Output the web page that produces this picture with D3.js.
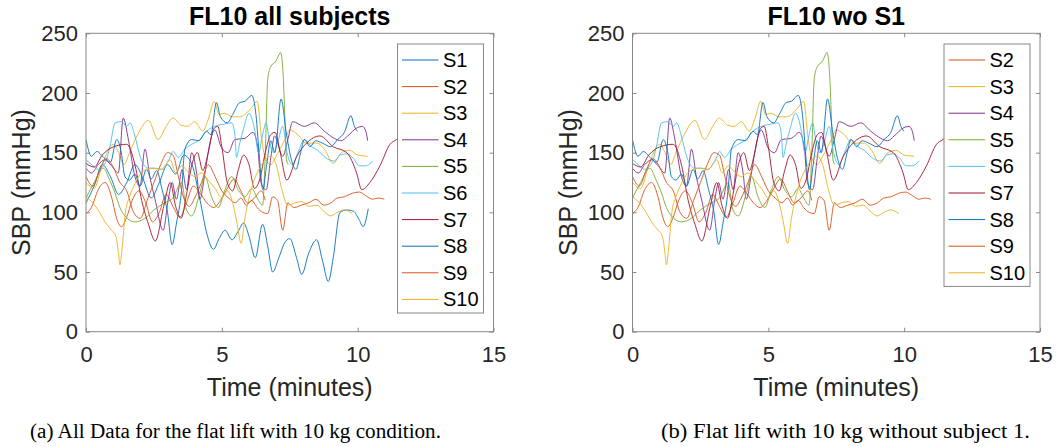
<!DOCTYPE html>
<html>
<head>
<meta charset="utf-8">
<script src="https://cdn.jsdelivr.net/npm/d3@7"></script>
<style>
  body { margin: 0; background: #fff; }
  text { font-family: "Liberation Sans", Arial, sans-serif; }
</style>
</head>
<body>
<div id="chart"></div>
<script>
// SBP readings per subject: [time (minutes), SBP (mmHg)]
var s1 = [[0,108],[0.3,122],[0.6,140],[0.9,130],[1.2,115],[1.5,125],[1.8,140],[2.1,128],[2.4,112],[2.7,125],[3.0,140],[3.3,132],[3.6,148],[3.9,140],[4.2,110],[4.45,82],[4.69,69],[4.9,78],[5.12,85],[5.37,77],[5.6,84],[5.8,91],[6.0,80],[6.23,62],[6.5,90],[6.7,70],[6.87,50],[7.1,62],[7.3,74],[7.5,78],[7.75,62],[7.94,48],[8.2,66],[8.49,77],[8.7,60],[8.92,42],[9.1,62],[9.35,100],[9.6,102],[9.84,101],[10.05,94],[10.2,88],[10.39,103]];
var s2 = [[0,99],[0.2,104],[0.45,119],[0.7,125],[0.95,112],[1.1,97],[1.3,88],[1.5,96],[1.7,110],[1.95,118],[2.2,108],[2.45,92],[2.7,100],[2.95,115],[3.2,105],[3.45,96],[3.7,108],[3.95,122],[4.2,116],[4.45,108],[4.7,104],[4.95,110],[5.2,120],[5.45,128],[5.7,118],[5.95,108],[6.2,112],[6.45,118],[6.6,110]];
var s3 = [[0,125],[0.3,120],[0.6,140],[1.0,157],[1.2,150],[1.4,140],[1.6,150],[1.9,165],[2.3,177],[2.65,161],[2.95,172],[3.2,179],[3.5,173],[3.75,172],[4.0,176],[4.3,168],[4.5,178],[4.72,193],[4.9,182],[5.1,183],[5.4,180],[5.65,180],[5.85,182],[6.1,188],[6.3,193],[6.45,165],[6.6,145],[6.8,140],[7.0,147],[7.3,160],[7.5,169],[7.8,165],[8.1,158],[8.5,158],[8.8,152],[9.1,141],[9.4,150],[9.7,152],[10.0,148],[10.37,147]];
var s4 = [[0,137],[0.21,133],[0.45,140],[0.7,144],[0.94,139],[1.19,133],[1.37,179],[1.56,161],[1.8,130],[1.99,122],[2.17,153],[2.35,130],[2.54,111],[2.84,85],[3.03,111],[3.17,125],[3.33,111],[3.54,136],[3.7,119],[3.89,150],[4.07,133],[4.19,111],[4.38,133],[4.56,158],[4.74,169],[4.99,154],[5.23,150],[5.48,161],[5.85,162],[6.14,167],[6.32,155],[6.44,125],[6.63,119],[6.81,147],[6.94,164],[7.24,147],[7.43,161],[7.61,176],[8.04,172],[8.4,175],[8.77,168],[9.14,162],[9.39,160],[9.63,164],[9.99,171],[10.18,172],[10.3,168],[10.37,160]];
var s5 = [[0,112],[0.3,125],[0.64,137],[0.85,128],[1.07,116],[1.25,104],[1.43,97],[1.8,92],[2.17,95],[2.5,102],[2.9,108],[3.2,112],[3.52,125],[3.7,102],[3.89,97],[4.19,116],[4.38,130],[4.62,113],[4.87,104],[5.1,118],[5.36,130],[5.6,119],[5.85,113],[6.1,120],[6.3,112],[6.5,106],[6.6,150],[6.69,212],[6.8,222],[7.0,227],[7.08,231],[7.16,234],[7.25,218],[7.32,180],[7.38,144],[7.45,140]];
var s6 = [[0,144],[0.21,140],[0.45,136],[0.7,141],[0.88,155],[1.07,175],[1.31,176],[1.5,172],[1.62,175],[1.8,164],[1.99,147],[2.29,137],[2.54,137],[2.78,136],[3.03,143],[3.21,151],[3.39,146],[3.64,153],[3.89,157],[4.19,161],[4.44,168],[4.74,172],[5.11,174],[5.36,175],[5.48,165],[5.54,146],[5.66,158],[5.8,170],[6.0,183],[6.2,170],[6.35,150],[6.5,165],[6.63,175],[6.75,160],[6.9,150],[7.05,158],[7.24,172],[7.4,150],[7.6,140],[7.8,150],[8.04,161],[8.3,155],[8.53,152],[8.8,146],[9.14,143],[9.35,148],[9.6,149],[9.85,145],[10.06,139],[10.3,139],[10.55,143]];
var s7 = [[0,141],[0.3,138],[0.6,148],[1.02,155],[1.5,157],[1.81,139],[2.05,110],[2.3,90],[2.55,76],[2.86,105],[3.1,125],[3.3,105],[3.5,95],[3.7,115],[3.9,140],[4.1,150],[4.3,135],[4.5,150],[4.7,170],[4.85,172],[5.0,155],[5.2,125],[5.4,118],[5.6,135],[5.8,148],[6.0,140],[6.2,120],[6.4,128],[6.6,150],[6.8,165],[6.96,167],[7.15,150],[7.39,127],[7.76,147],[8.12,158],[8.61,164],[9.1,155],[9.6,150],[9.96,133],[10.15,119],[10.45,125],[10.82,139],[11.19,157],[11.43,161],[11.7,166]];
var s8 = [[0,161],[0.2,147],[0.4,151],[0.65,146],[0.9,142],[1.13,161],[1.3,150],[1.43,130],[1.6,127],[1.8,132],[1.99,122],[2.23,136],[2.4,128],[2.6,135],[2.8,119],[3.0,100],[3.17,73],[3.33,91],[3.52,119],[3.64,153],[3.89,161],[4.15,160],[4.44,168],[4.6,165],[4.8,192],[4.95,180],[5.2,175],[5.4,182],[5.66,192],[5.85,193],[6.1,198],[6.26,181],[6.38,147],[6.51,119],[6.65,140],[6.8,160],[6.95,150],[7.18,195],[7.37,167],[7.55,145],[7.73,136],[7.9,150],[8.04,161],[8.25,155],[8.45,160],[8.7,158],[9.0,155],[9.26,161],[9.51,167],[9.75,181],[9.88,172],[9.99,168]];
var s9 = [[0,130],[0.25,122],[0.5,135],[0.75,145],[1.0,138],[1.25,125],[1.5,118],[1.75,100],[2.0,95],[2.25,110],[2.5,125],[2.75,140],[3.0,150],[3.2,148],[3.4,130],[3.6,112],[3.8,105],[4.0,112],[4.25,125],[4.5,140],[4.75,130],[5.0,118],[5.25,112],[5.5,108],[5.7,112],[5.9,106],[6.1,110],[6.3,104],[6.5,100],[6.69,99],[6.87,113],[7.05,110],[7.24,85],[7.43,108],[7.65,104],[7.92,106],[8.2,108],[8.47,111],[8.75,106],[9.02,108],[9.25,112],[9.51,113],[9.8,116],[10.06,117],[10.3,114],[10.55,111],[10.75,112],[10.98,111]];
var s10 = [[0,113],[0.25,108],[0.5,100],[0.7,92],[0.94,85],[1.1,80],[1.2,65],[1.25,56],[1.32,68],[1.45,100],[1.6,113],[1.8,124],[2.0,132],[2.23,136],[2.5,137],[2.78,136],[3.1,144],[3.3,133],[3.52,139],[3.75,134],[4.0,130],[4.25,133],[4.5,127],[4.75,120],[5.0,112],[5.2,118],[5.4,108],[5.55,92],[5.71,74],[5.85,95],[6.08,119],[6.44,139],[6.81,147],[7.0,140],[7.2,120],[7.43,106],[7.7,108],[7.95,109],[8.2,105],[8.5,106],[8.75,101],[9.0,97],[9.25,100],[9.5,102],[9.8,99]];

var subjectNames = ["S1","S2","S3","S4","S5","S6","S7","S8","S9","S10"];
var subjectData = [s1, s2, s3, s4, s5, s6, s7, s8, s9, s10];
var subjectColors = ["#0072BD","#D95319","#EDB120","#7E2F8E","#77AC30","#4DBEEE","#A2142F","#0072BD","#D95319","#EDB120"];

var xTicks = [0, 5, 10, 15];
var yTicks = [0, 50, 100, 150, 200, 250];

var svgWidth = 1056;
var svgHeight = 447;

var svg = d3.select("#chart")
  .append("svg")
  .attr("width", svgWidth)
  .attr("height", svgHeight);

var plotTop = 33.3, plotBottom = 331.7, plotWidth = 407.5;

function drawPanel(left, title, which, caption, capX, capW, id) {
  var x = d3.scaleLinear().domain([0, 15]).range([left, left + plotWidth]);
  var y = d3.scaleLinear().domain([0, 250]).range([plotBottom, plotTop]);

  var g = svg.append("g");

  // clip for the lines
  g.append("clipPath").attr("id", "clip" + id)
    .append("rect")
    .attr("x", left).attr("y", plotTop)
    .attr("width", plotWidth).attr("height", plotBottom - plotTop);

  // axes with inward ticks
  function styleAxis(a) {
    a.attr("font-size", 22)
      .attr("font-family", "'Liberation Sans', Arial, sans-serif")
      .attr("color", "#262626");
    a.select(".domain").remove();
    a.selectAll(".tick line").attr("stroke", "#888");
  }
  g.append("g")
    .attr("transform", `translate(0, ${plotBottom})`)
    .call(d3.axisBottom(x).tickValues(xTicks).tickSize(-4).tickPadding(15))
    .call(styleAxis);
  g.append("g")
    .attr("transform", `translate(0, ${plotTop})`)
    .call(d3.axisTop(x).tickValues(xTicks).tickSize(-4).tickFormat(""))
    .call(styleAxis);
  g.append("g")
    .attr("transform", `translate(${left}, 0)`)
    .call(d3.axisLeft(y).tickValues(yTicks).tickSize(-4).tickPadding(8))
    .call(styleAxis);
  g.append("g")
    .attr("transform", `translate(${left + plotWidth}, 0)`)
    .call(d3.axisRight(y).tickValues(yTicks).tickSize(-4).tickFormat(""))
    .call(styleAxis);

  var line = d3.line()
    .x(d => x(d[0]))
    .y(d => y(d[1]))
    .curve(d3.curveMonotoneX);

  var lines = g.append("g").attr("clip-path", `url(#clip${id})`);
  which.forEach(function(i) {
    lines.append("path")
      .attr("d", line(subjectData[i]))
      .attr("fill", "none")
      .attr("stroke", subjectColors[i])
      .attr("stroke-width", 1)
      .attr("opacity", 0.9);
  });

  // box
  g.append("rect")
    .attr("x", left).attr("y", plotTop)
    .attr("width", plotWidth).attr("height", plotBottom - plotTop)
    .attr("fill", "none").attr("stroke", "#888").attr("stroke-width", 1);

  // title
  g.append("text")
    .attr("x", left + plotWidth / 2)
    .attr("y", 25)
    .attr("text-anchor", "middle")
    .attr("font-size", 25)
    .attr("font-weight", "bold")
    .attr("fill", "#000")
    .text(title);

  // axis labels
  g.append("text")
    .attr("x", left + plotWidth / 2)
    .attr("y", 396)
    .attr("text-anchor", "middle")
    .attr("font-size", 25)
    .attr("fill", "#262626")
    .text("Time (minutes)");
  g.append("text")
    .attr("transform", `translate(${left - 56}, ${(plotTop + plotBottom) / 2}) rotate(-90)`)
    .attr("text-anchor", "middle")
    .attr("font-size", 25)
    .attr("fill", "#262626")
    .text("SBP (mmHg)");

  // legend
  var lgX = left + 311.5, lgY = 44, rowH = 26.6;
  g.append("rect")
    .attr("x", lgX).attr("y", lgY)
    .attr("width", 86).attr("height", which.length * rowH + 3)
    .attr("fill", "#fff").attr("stroke", "#888").attr("stroke-width", 1);
  which.forEach(function(i, k) {
    var cy = lgY + 16 + k * rowH;
    g.append("line")
      .attr("x1", lgX + 4.5).attr("x2", lgX + 41)
      .attr("y1", cy).attr("y2", cy)
      .attr("stroke", subjectColors[i]).attr("stroke-width", 1);
    g.append("text")
      .attr("x", lgX + 45.5).attr("y", cy)
      .attr("dy", "0.35em")
      .attr("font-size", 20)
      .attr("fill", "#000")
      .text(subjectNames[i]);
  });

  // caption
  svg.append("text")
    .attr("x", capX).attr("y", 438)
    .style("font-family", "'Liberation Serif', 'Times New Roman', serif")
    .attr("font-size", 20)
    .attr("fill", "#000")
    .attr("textLength", capW)
    .attr("lengthAdjust", "spacingAndGlyphs")
    .text(caption);
}

drawPanel(86, "FL10 all subjects", [0,1,2,3,4,5,6,7,8,9],
  "(a) All Data for the flat lift with 10 kg condition.", 30, 411, "a");
drawPanel(632.5, "FL10 wo S1", [1,2,3,4,5,6,7,8,9],
  "(b) Flat lift with 10 kg without subject 1.", 661, 369, "b");
</script>
</body>
</html>
